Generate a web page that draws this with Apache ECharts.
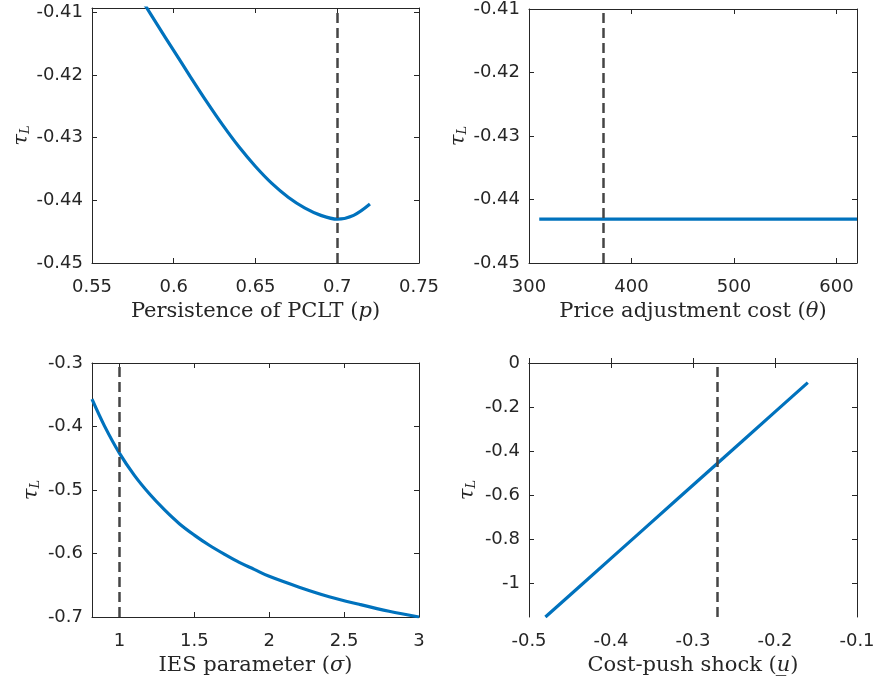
<!DOCTYPE html>
<html>
<head>
<meta charset="utf-8">
<script src="https://cdn.jsdelivr.net/npm/echarts@6/dist/echarts.min.js"></script>
<style>
html,body{margin:0;padding:0;background:#fff;}
#chart{width:878px;height:682px;}
</style>
</head>
<body>
<div id="chart"></div>
<script>
// ---- Data ----
// Panel 1: Persistence of PCLT (p)
const pVals   = [0.58, 0.59, 0.60, 0.61, 0.62, 0.63, 0.64, 0.65, 0.66, 0.67, 0.68, 0.69, 0.70, 0.71, 0.72];
const tauP    = [-0.4078, -0.4120, -0.4161, -0.4202, -0.4242, -0.4280, -0.4315, -0.4346, -0.4373, -0.4395, -0.4412, -0.4424, -0.4430, -0.4424, -0.4406];
const pRef = 0.7;
const pTicks = [0.55, 0.6, 0.65, 0.7, 0.75];
const tauTicksTop = [-0.45, -0.44, -0.43, -0.42, -0.41];

// Panel 2: Price adjustment cost (theta)
const thetaVals = [310, 372, 450, 500, 550, 620];
const tauTheta  = [-0.4431, -0.4431, -0.4431, -0.4431, -0.4431, -0.4431];
const thetaRef = 372;
const thetaTicks = [300, 400, 500, 600];

// Panel 3: IES parameter (sigma)
const sigmaVals = [0.817, 0.9, 1.0, 1.1, 1.2, 1.3, 1.4, 1.5, 1.6, 1.7, 1.8, 1.9, 2.0, 2.2, 2.4, 2.6, 2.8, 3.0];
const tauSigma  = [-0.357, -0.399, -0.442, -0.477, -0.506, -0.531, -0.553, -0.571, -0.587, -0.601, -0.614, -0.625, -0.636, -0.653, -0.668, -0.680, -0.691, -0.700];
const sigmaRef = 1;
const sigmaTicks = [1, 1.5, 2, 2.5, 3];
const tauTicksSigma = [-0.7, -0.6, -0.5, -0.4, -0.3];

// Panel 4: Cost-push shock (u)
const uVals = [-0.48, -0.44, -0.40, -0.36, -0.32, -0.28, -0.24, -0.20, -0.16];
const tauU  = [-1.153, -1.020, -0.887, -0.754, -0.621, -0.488, -0.355, -0.222, -0.089];
const uRef = -0.266;
const uTicks = [-0.5, -0.4, -0.3, -0.2, -0.1];
const tauTicksU = [-1, -0.8, -0.6, -0.4, -0.2, 0];

// ---- Styling ----
const AX = '#262626';
const BLUE = '#0072BD';
const TICKFONT = 'DejaVu Sans';
const SERIF = 'DejaVu Serif';

const grids = [
  {left: 92,  top: 8,   width: 327, height: 255},
  {left: 529, top: 8,   width: 328, height: 255},
  {left: 92,  top: 363, width: 327, height: 254},
  {left: 529, top: 363, width: 328, height: 254}
];

function nameStyle() {
  return {
    fontFamily: SERIF, fontSize: 21, color: AX,
    rich: {
      i: {fontFamily: SERIF, fontSize: 21, fontStyle: 'italic', color: AX},
      t: {fontFamily: SERIF, fontSize: 21, fontStyle: 'italic', color: AX},
      s: {fontFamily: SERIF, fontSize: 13, fontStyle: 'italic', color: AX, verticalAlign: 'bottom', padding: [8, 0, 0, 0]}
    }
  };
}

const xAxes = [], yAxes = [];
function addAxes(g, xmin, xmax, xticks, ymin, ymax, yticks, xname, ygap) {
  xAxes.push({
    type: 'value', gridIndex: g, position: 'bottom', min: xmin, max: xmax,
    axisLine: {show: true, lineStyle: {color: AX, width: 1}},
    axisTick: {show: true, inside: true, length: 5, customValues: xticks, lineStyle: {color: AX}},
    axisLabel: {show: true, customValues: xticks, margin: 15, fontFamily: TICKFONT, fontSize: 18, color: AX},
    splitLine: {show: false},
    name: xname, nameLocation: 'middle', nameGap: 38, nameTextStyle: nameStyle()
  });
  xAxes.push({
    type: 'value', gridIndex: g, position: 'top', min: xmin, max: xmax,
    axisLine: {show: true, lineStyle: {color: AX, width: 1}},
    axisTick: {show: true, inside: true, length: 5, customValues: xticks, lineStyle: {color: AX}},
    axisLabel: {show: false}, splitLine: {show: false}
  });
  yAxes.push({
    type: 'value', gridIndex: g, position: 'left', min: ymin, max: ymax,
    axisLine: {show: true, lineStyle: {color: AX, width: 1}},
    axisTick: {show: true, inside: true, length: 5, customValues: yticks, lineStyle: {color: AX}},
    axisLabel: {show: true, customValues: yticks, margin: 9, fontFamily: TICKFONT, fontSize: 18, color: AX},
    splitLine: {show: false},
    name: '{t|τ}{s|L}', nameLocation: 'middle', nameRotate: 90, nameGap: ygap, nameTextStyle: nameStyle()
  });
  yAxes.push({
    type: 'value', gridIndex: g, position: 'right', min: ymin, max: ymax,
    axisLine: {show: true, lineStyle: {color: AX, width: 1}},
    axisTick: {show: true, inside: true, length: 5, customValues: yticks, lineStyle: {color: AX}},
    axisLabel: {show: false}, splitLine: {show: false}
  });
}

addAxes(0, 0.55, 0.75, pTicks, -0.45, -0.4093, tauTicksTop, 'Persistence of PCLT ({i|p})', 57);
addAxes(1, 300, 620, thetaTicks, -0.45, -0.41, tauTicksTop, 'Price adjustment cost ({i|θ})', 56);
addAxes(2, 0.817, 3, sigmaTicks, -0.7, -0.3, tauTicksSigma, 'IES parameter ({i|σ})', 50);
addAxes(3, -0.5, -0.1, uTicks, -1.153, 0, tauTicksU, 'Cost-push shock ({i|u\u0332})', 51);

function zip(xs, ys) { return xs.map((x, i) => [x, ys[i]]); }

function lineSeries(g, xs, ys, ref, smooth) {
  return {
    type: 'line', xAxisIndex: 2 * g, yAxisIndex: 2 * g,
    data: zip(xs, ys), showSymbol: false, smooth: smooth, clip: true,
    lineStyle: {color: BLUE, width: 3.2, join: 'round'}, itemStyle: {color: BLUE},
    silent: true, animation: false,
    markLine: {
      silent: true, symbol: ['none', 'none'], animation: false,
      label: {show: false},
      lineStyle: {color: '#454545', width: 2.5, type: [10, 5]},
      data: [{xAxis: ref}]
    }
  };
}

const option = {
  animation: false,
  backgroundColor: '#ffffff',
  grid: grids.map(g => Object.assign({containLabel: false, show: false}, g)),
  xAxis: xAxes,
  yAxis: yAxes,
  series: [
    lineSeries(0, pVals, tauP, pRef, 0.35),
    lineSeries(1, thetaVals, tauTheta, thetaRef, false),
    lineSeries(2, sigmaVals, tauSigma, sigmaRef, 0.35),
    lineSeries(3, uVals, tauU, uRef, false)
  ]
};

const chart = echarts.init(document.getElementById('chart'), null, {renderer: 'canvas'});
chart.setOption(option);
</script>
</body>
</html>
